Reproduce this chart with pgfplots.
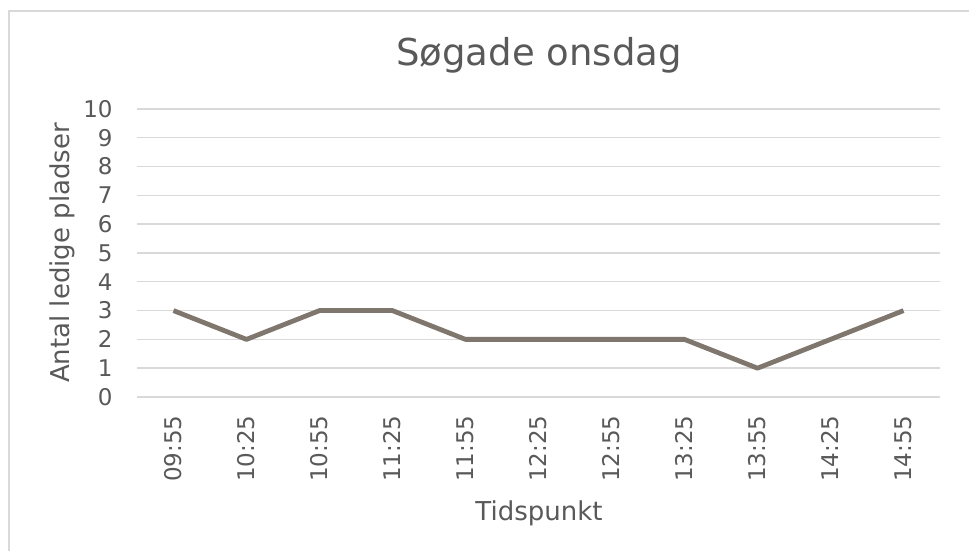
\documentclass[border=0pt]{standalone}
\usepackage{pgfplots}
\pgfplotsset{compat=1.18}
\usepackage{fontspec}
\setmainfont{DejaVu Sans}
\definecolor{linegray}{RGB}{127,119,109}
\definecolor{gridgray}{RGB}{217,217,217}
\definecolor{textgray}{RGB}{89,89,89}
% 1 px of the reference = 0.5pt, origin at the bottom left
\begin{document}
\begin{tikzpicture}
\begin{scope}[x=0.5pt,y=0.5pt]
\path[use as bounding box] (0,0) rectangle (969,551);
\fill[white] (0,0) rectangle (969,551);
\draw[gridgray, line width=0.75pt] (9,0) -- (9,540) -- (969,540);
\node[text=textgray, font=\fontsize{18.5pt}{22pt}\selectfont] at (539,496) {Søgade onsdag};
\node[text=textgray, font=\fontsize{13pt}{15pt}\selectfont] at (539,38) {Tidspunkt};
\node[text=textgray, font=\fontsize{13pt}{15pt}\selectfont, rotate=90] at (62,298) {Antal ledige pladser};
\end{scope}
\begin{axis}[
    at={(68.5pt,77pt)}, anchor=south west,
    scale only axis,
    width=401.5pt, height=144pt,
    xmin=-0.5, xmax=10.5,
    ymin=0, ymax=10,
    xtick={0,...,10},
    xticklabels={09:55,10:25,10:55,11:25,11:55,12:25,12:55,13:25,13:55,14:25,14:55},
    ytick={0,...,10},
    ymajorgrids,
    grid style={gridgray, line width=0.7pt},
    axis line style={draw=none},
    major tick length=0pt,
    /pgf/number format/assume math mode=true,
    ticklabel style={font=\fontsize{11.5pt}{13pt}\selectfont, text=textgray, inner sep=0pt},
    xticklabel style={yshift=-9pt, rotate=90, anchor=east},
    yticklabel style={anchor=east, xshift=-12pt},
    clip=false,
]
\draw[gridgray, line width=0.7pt] (axis cs:-0.5,0) -- (axis cs:10.5,0);
\addplot[linegray, line width=2.4pt, line join=round, mark=none] coordinates {
    (0,3) (1,2) (2,3) (3,3) (4,2) (5,2) (6,2) (7,2) (8,1) (9,2) (10,3)
};
\end{axis}
\end{tikzpicture}
\end{document}
